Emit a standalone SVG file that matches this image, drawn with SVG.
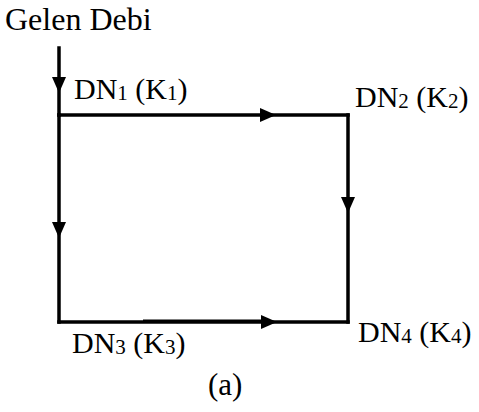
<svg xmlns="http://www.w3.org/2000/svg" width="479" height="412" viewBox="0 0 479 412">
  <style>
    .lbl { font-family: "Liberation Serif", "Times New Roman", serif; font-size: 30px; fill: #000; }
    .big { font-size: 31px; }
    .title { font-size: 32px; }
    .sub { font-size: 21px; }
    .pipe { fill: none; stroke: #000; stroke-width: 3.5; stroke-linecap: square; stroke-linejoin: miter; }
  </style>
  <defs>
    <marker id="arrow" viewBox="0 0 16 14" refX="16" refY="7" markerWidth="16" markerHeight="14" markerUnits="userSpaceOnUse" orient="auto">
      <path d="M0,0 L16,7 L0,14 Z" fill="#000"/>
    </marker>
  </defs>

  <rect width="479" height="412" fill="#fff"/>

  <g id="connectors">
    <!-- inflow into node 1 -->
    <path class="pipe" d="M59,48 L59,93 L59,115" marker-mid="url(#arrow)"/>
    <!-- 1 -> 2 -->
    <path class="pipe" d="M59,115 L276,115 L348,115" marker-mid="url(#arrow)"/>
    <!-- 2 -> 4 -->
    <path class="pipe" d="M348,115 L348,213 L348,322" marker-mid="url(#arrow)"/>
    <!-- 1 -> 3 -->
    <path class="pipe" d="M59,115 L59,238 L59,322" marker-mid="url(#arrow)"/>
    <!-- 3 -> 4 -->
    <path class="pipe" d="M59,322 L277,322 L348,322" marker-mid="url(#arrow)"/>
    <path d="M143,320.5 L265,320.5" stroke="#000" stroke-width="2" fill="none"/>
  </g>

  <g id="inflow">
    <text class="lbl title" x="5" y="30">Gelen Debi</text>
  </g>
  <g id="node-1">
    <text class="lbl" x="74" y="99">DN<tspan class="sub" dy="1">1</tspan><tspan dy="-1"> (K</tspan><tspan class="sub" dy="1">1</tspan><tspan dy="-1">)</tspan></text>
  </g>
  <g id="node-2">
    <text class="lbl" x="355" y="107">DN<tspan class="sub" dy="1">2</tspan><tspan dy="-1"> (K</tspan><tspan class="sub" dy="1">2</tspan><tspan dy="-1">)</tspan></text>
  </g>
  <g id="node-3">
    <text class="lbl" x="72" y="353">DN<tspan class="sub" dy="1">3</tspan><tspan dy="-1"> (K</tspan><tspan class="sub" dy="1">3</tspan><tspan dy="-1">)</tspan></text>
  </g>
  <g id="node-4">
    <text class="lbl" x="358" y="342">DN<tspan class="sub" dy="1">4</tspan><tspan dy="-1"> (K</tspan><tspan class="sub" dy="1">4</tspan><tspan dy="-1">)</tspan></text>
  </g>
  <g id="caption">
    <text class="lbl big" x="208" y="395">(a)</text>
  </g>
</svg>
